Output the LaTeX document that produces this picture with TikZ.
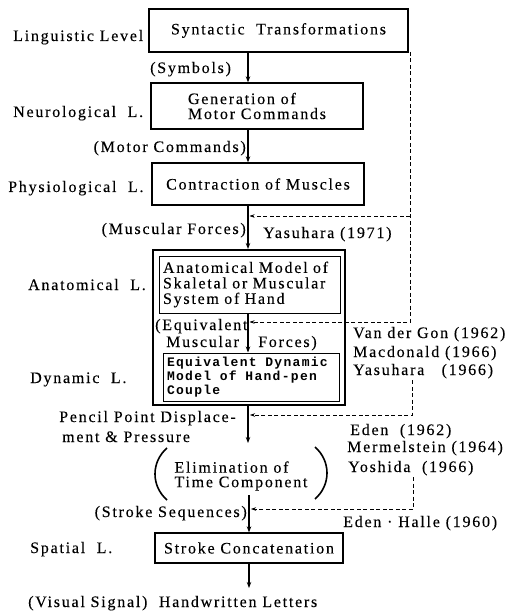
\documentclass[tikz,border=0pt]{standalone}
\usepackage{fontspec}
\setmainfont{Liberation Serif}[LetterSpace=11,FakeBold=0.12]
\newfontfamily\monofam{Liberation Mono}[LetterSpace=10]
\usetikzlibrary{arrows.meta}
\begin{document}
\begin{tikzpicture}[x=1pt,y=-1pt,
  txt/.style={inner sep=0pt, font=\fontsize{16}{18}\selectfont},
  box/.style={draw, line width=1.3pt, inner sep=0pt, font=\fontsize{16}{15}\selectfont},
  arr/.style={line width=1.1pt, -{Stealth[length=6pt,width=4.5pt]}},
  dsh/.style={line width=0.6pt, dash pattern=on 4pt off 2.5pt, -{Stealth[length=5pt,width=3.5pt]}},
  paren/.style={line width=1.6pt}]
\useasboundingbox (0,0) rectangle (515,612);
\fill[white] (0,0) rectangle (515,612);
% boxes
\node[box, minimum width=259pt, minimum height=43pt] (b1) at (278.5,30.5) {Syntactic\ \ Transformations};
\node[box, minimum width=212pt, minimum height=46pt, align=left] (b2) at (257,106) {Generation of\\Motor Commands};
\node[box, minimum width=212pt, minimum height=42pt] (b3) at (258,184) {Contraction of Muscles};
\node[draw, line width=2pt, minimum width=192pt, minimum height=155pt, inner sep=0pt] (outer) at (249,327.5) {};
\node[box, line width=1pt, minimum width=181pt, minimum height=57pt, text width=173pt, align=left, font=\fontsize{16}{15.5}\selectfont] (in1) at (249.5,284.5) {Anatomical Model of\\Skaletal or Muscular\\System of Hand};
\node[box, line width=1pt, minimum width=176pt, minimum height=48pt, text width=168pt, align=left, font=\monofam\bfseries\fontsize{13}{14}\selectfont] (in2) at (251,377) {Equivalent\ \ Dynamic\\Model\ \ of\ \ Hand-pen\\Couple};
\node[txt, align=left, font=\fontsize{16}{14.5}\selectfont] (elim) at (241,476) {Elimination\ of\\Time Component};
\node[box, minimum width=188pt, minimum height=30pt] (b4) at (249,548) {Stroke Concatenation};
% parentheses
\draw[paren] (167,448) .. controls (151,462) and (151,486) .. (167,500);
\draw[paren] (315,447) .. controls (331,461) and (331,485) .. (315,499);
% main line
\coordinate (m) at (248,0);
\coordinate (e1) at (248,443);
\coordinate (e2) at (249,495);
\coordinate (e3) at (249,588);
\draw[arr] (b1.south -| m) -- (b2.north -| m);
\draw[arr] (b2.south -| m) -- (b3.north -| m);
\draw[arr] (b3.south -| m) -- (outer.north -| m);
\draw[arr] (in1.south -| m) -- (in2.north -| m);
\draw[arr] (outer.south -| m) -- (e1);
\draw[arr] (e2) -- (b4.north -| e2);
\draw[arr] (b4.south -| e3) -- (e3);
% dashed feedback
\coordinate (da) at (410,52);
\coordinate (db) at (410,216);
\coordinate (ta) at (249.5,216);
\coordinate (tb) at (249.5,322);
\coordinate (dc) at (412,380);
\coordinate (tc) at (250,415);
\coordinate (dd) at (413,477);
\coordinate (td) at (251,509);
\draw[dsh] (db) -- (ta);
\draw[dsh] (da) |- (tb);
\draw[dsh] (dc) |- (tc);
\draw[dsh] (dd) |- (td);
% level labels
\node[txt, anchor=base west] (lLing) at (13,41) {Linguistic Level};
\node[txt, anchor=base west] (lNeuro) at (13,117) {Neurological\ \ L.};
\node[txt, anchor=base west] (lPhys) at (8,192) {Physiological\ \ L.};
\node[txt, anchor=base west] (lAnat) at (28,290) {Anatomical\ \ L.};
\node[txt, anchor=base west] (lDyn) at (30,383) {Dynamic\ \ L.};
\node[txt, anchor=base west] (lSpat) at (30,553) {Spatial\ \ L.};
% signal labels
\node[txt, anchor=base west] (sym) at (150,73) {(Symbols)};
\node[txt, anchor=base east] (motc) at (246,152) {(Motor Commands)};
\node[txt, anchor=base east] (musf) at (246,234) {(Muscular Forces)};
\node[txt, anchor=base west] (eqv1) at (155,330) {(Equivalent};
\node[txt, anchor=base west] (eqv2) at (166,347) {Muscular};
\node[txt, anchor=base west] (eqv3) at (258,347) {Forces)};
\node[txt, anchor=base west] (pen1) at (59,422) {Pencil Point Displace-};
\node[txt, anchor=base west] (pen2) at (62,442) {ment \& Pressure};
\node[txt, anchor=base east] (strs) at (247,517) {(Stroke Sequences)};
\node[txt, anchor=base west] (vis) at (28,607) {(Visual Signal)\ \ Handwritten Letters};
% references
\node[txt, anchor=base west] (yas71) at (263,238) {Yasuhara (1971)};
\node[txt, anchor=base west] (vdg) at (353,338) {Van der Gon (1962)};
\node[txt, anchor=base west] (mac) at (353,357) {Macdonald (1966)};
\node[txt, anchor=base west] (yas66) at (353,375) {Yasuhara\ \ \ (1966)};
\node[txt, anchor=base west] (eden) at (350,435) {Eden\ \ (1962)};
\node[txt, anchor=base west] (merm) at (347,452) {Mermelstein (1964)};
\node[txt, anchor=base west] (yosh) at (348,472) {Yoshida\ \ (1966)};
\node[txt, anchor=base west] (edh) at (343,527) {Eden · Halle (1960)};
\end{tikzpicture}
\end{document}
